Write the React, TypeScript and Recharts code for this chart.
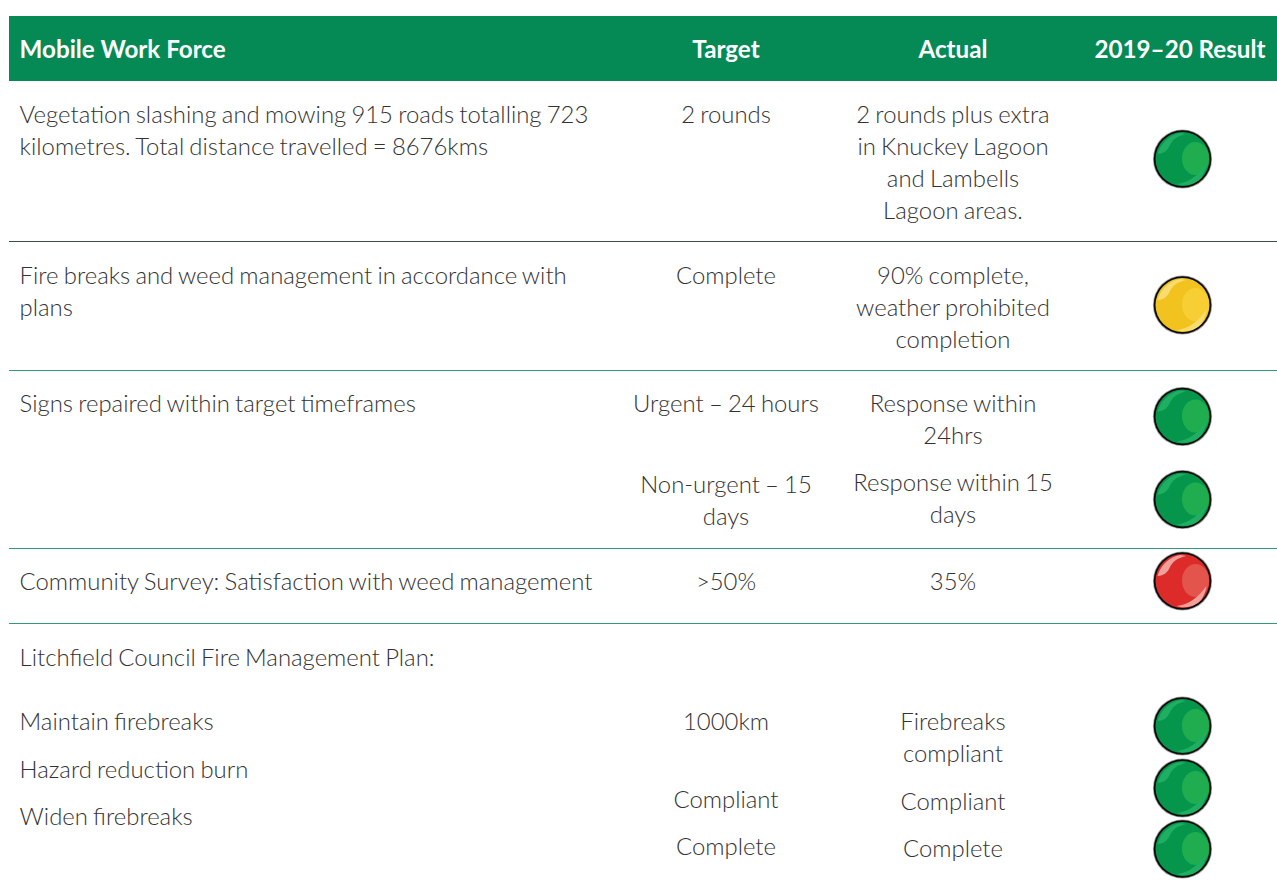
import { ReferenceArea, ReferenceLine, Scatter, ScatterChart, XAxis, YAxis } from "recharts";

const WIDTH = 1277;
const HEIGHT = 882;

const headerLabels = ["Mobile Work Force", "Target", "Actual", "2019–20 Result"];

const descriptionLines = [
  "Vegetation slashing and mowing 915 roads totalling 723",
  "kilometres. Total distance travelled = 8676kms",
  "Fire breaks and weed management in accordance with",
  "plans",
  "Signs repaired within target timeframes",
  "Community Survey: Satisfaction with weed management",
  "Litchfield Council Fire Management Plan:",
  "Maintain firebreaks",
  "Hazard reduction burn",
  "Widen firebreaks"
];

const targetLines = [
  "2 rounds",
  "Complete",
  "Urgent – 24 hours",
  "Non-urgent – 15",
  "days",
  ">50%",
  "1000km",
  "Compliant",
  "Complete"
];

const actualLines = [
  "2 rounds plus extra",
  "in Knuckey Lagoon",
  "and Lambells",
  "Lagoon areas.",
  "90% complete,",
  "weather prohibited",
  "completion",
  "Response within",
  "24hrs",
  "Response within 15",
  "days",
  "35%",
  "Firebreaks",
  "compliant",
  "Compliant",
  "Complete"
];

const results = ["green", "amber", "green", "green", "red", "green", "green", "green"];

// layout, in page pixels
const descriptionY = [123, 155, 284, 316, 412, 590, 666, 730, 778, 825];
const targetY = [123, 284, 412, 493, 525, 590, 730, 808, 855];
const actualY = [123, 155, 187, 219, 284, 316, 348, 412, 444, 491, 523, 590, 730, 762, 810, 857];
const resultY = [159, 305, 416.5, 499.5, 581, 726, 788, 849];
const separators = [
  { y: 241.5, color: "#3f4d49" },
  { y: 370.5, color: "#2f9c7a" },
  { y: 548.5, color: "#2f9c7a" },
  { y: 623.5, color: "#2f9c7a" }
];

const DESCRIPTION_X = 19.6;
const TARGET_X = 726;
const ACTUAL_X = 953;
const RESULT_X = 1182;
const LEFT = 9;

const palette: Record<string, { base: string; blob: string; shine: string }> = {
  green: { base: "#05964c", blob: "#1fad50", shine: "#1fae62" },
  amber: { base: "#f2c31e", blob: "#f7cf35", shine: "#f8dc70" },
  red: { base: "#dc2b28", blob: "#e2544c", shine: "#f0a09a" }
};

const headerPoints = [
  { x: DESCRIPTION_X, y: 58, text: headerLabels[0], anchor: "start" },
  { x: TARGET_X, y: 58, text: headerLabels[1], anchor: "middle" },
  { x: ACTUAL_X, y: 58, text: headerLabels[2], anchor: "middle" },
  { x: 1180, y: 58, text: headerLabels[3], anchor: "middle" }
];
const descriptionPoints = descriptionLines.map((text, i) => ({ x: DESCRIPTION_X, y: descriptionY[i], text, anchor: "start" }));
const targetPoints = targetLines.map((text, i) => ({ x: TARGET_X, y: targetY[i], text, anchor: "middle" }));
const actualPoints = actualLines.map((text, i) => ({ x: ACTUAL_X, y: actualY[i], text, anchor: "middle" }));
const resultPoints = results.map((status, i) => ({ x: RESULT_X, y: resultY[i], status }));

function HeaderText({ cx, cy, payload }: any) {
  return (
    <text x={cx} y={cy} textAnchor={payload.anchor} fontFamily="Lato" fontWeight={700} fontSize={24.2} fill="#ffffff">
      {payload.text}
    </text>
  );
}

function BodyText({ cx, cy, payload }: any) {
  return (
    <text
      x={cx}
      y={cy}
      textAnchor={payload.anchor}
      fontFamily="Lato"
      fontWeight={300}
      fontSize={23.9}
      wordSpacing={-1.3}
      fill="#333333"
    >
      {payload.text}
    </text>
  );
}

function TrafficLight({ cx, cy, payload }: any) {
  const colors = palette[payload.status];
  const id = `clip-${Math.round(cy)}`;
  return (
    <g transform={`translate(${cx + 0.5},${cy})`}>
      <clipPath id={id}>
        <circle r={27} />
      </clipPath>
      <circle r={29.6} fill="#a0a0a0" />
      <circle r={28.8} fill="#0c0c0c" />
      <circle r={27} fill={colors.base} />
      <g clipPath={`url(#${id})`}>
        <ellipse cx={13} cy={-0.5} rx={13.5} ry={16.5} fill={colors.blob} />
        <path d="M-25,-5 C-22,-16 -12,-25 -2,-26 L4,-25 C-6,-23 -10,-19 -13,-13 C-15,-8 -20,-5 -25,-5 Z" fill={colors.shine} />
        <path d="M-6,25 C6,24 16,16 24,5 C23,12 20,18 16,22 C8,27 0,27 -6,25 Z" fill={colors.shine} />
      </g>
    </g>
  );
}

export default function App() {
  return (
    <div style={{ position: "absolute", left: 0, top: 0, width: WIDTH, height: HEIGHT, background: "#ffffff" }}>
      <ScatterChart width={WIDTH} height={HEIGHT} margin={{ top: 0, right: 0, bottom: 0, left: 0 }}>
        <XAxis type="number" dataKey="x" domain={[0, WIDTH]} hide />
        <YAxis type="number" dataKey="y" domain={[0, HEIGHT]} reversed hide />
        <ReferenceArea x1={LEFT} x2={WIDTH} y1={16} y2={81} fill="#058a55" fillOpacity={1} stroke="none" />
        {separators.map((line) => (
          <ReferenceLine
            key={line.y}
            segment={[
              { x: LEFT, y: line.y },
              { x: WIDTH, y: line.y }
            ]}
            stroke={line.color}
            strokeWidth={1}
          />
        ))}
        <Scatter data={headerPoints} shape={HeaderText} isAnimationActive={false} />
        <Scatter data={descriptionPoints} shape={BodyText} isAnimationActive={false} />
        <Scatter data={targetPoints} shape={BodyText} isAnimationActive={false} />
        <Scatter data={actualPoints} shape={BodyText} isAnimationActive={false} />
        <Scatter data={resultPoints} shape={TrafficLight} isAnimationActive={false} />
      </ScatterChart>
    </div>
  );
}
